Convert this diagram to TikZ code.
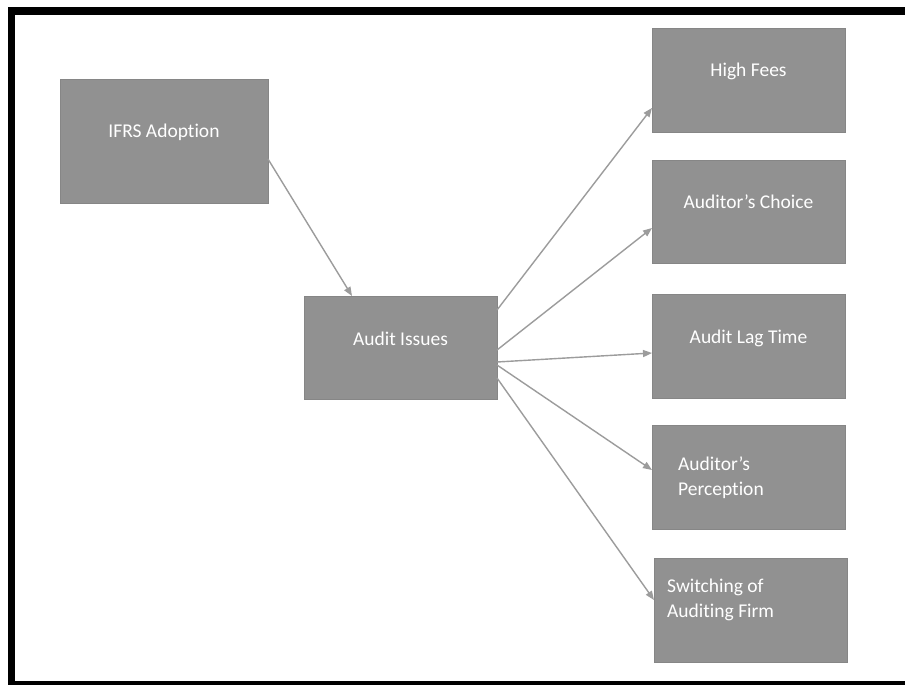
\documentclass[tikz,border=0pt]{standalone}
\usepackage{fontspec}
\setmainfont[Ligatures=NoCommon]{Carlito}
\usetikzlibrary{arrows.meta,positioning}
\definecolor{boxgray}{HTML}{919191}
\definecolor{boxedge}{HTML}{868686}
\definecolor{arrgray}{HTML}{9C9C9C}
\begin{document}
\begin{tikzpicture}[x=1pt,y=-1pt,
  box/.style={draw=boxedge,line width=0.8pt,fill=boxgray,minimum width=193pt,minimum height=104pt,inner sep=0pt,outer sep=0pt},
  boxtext/.style={text=white,font=\fontsize{19.5}{25}\selectfont,inner sep=0pt},
  conn/.style={draw=arrgray,line width=1.4pt,-{Triangle[length=9pt,width=7pt]}}]
\useasboundingbox (0,0) rectangle (905,685);
\fill[white] (0,0) rectangle (905,685);
% frame
\fill[black] (8,7) rectangle (905,15);
\fill[black] (8,7) rectangle (15,685);
\fill[black] (8,681) rectangle (905,685);
% boxes
\node[box,minimum width=208pt,minimum height=124pt] (ifrs) at (164,141) {};
\node[box,minimum height=103pt] (issues) at (400.5,347.5) {};
\node[box] (fees) at (748.5,80) {};
\node[box,minimum height=103pt] (choice) at (748.5,211.5) {};
\node[box] (lag) at (748.5,346) {};
\node[box] (perc) at (748.5,477) {};
\node[box] (switch) at (750.5,610) {};
% texts
\node[boxtext] (ifrsT) at ([yshift=9pt]ifrs.center) {IFRS Adoption};
\node[boxtext] (issuesT) at ([yshift=8.5pt]issues.center) {Audit Issues};
\node[boxtext] (feesT) at ([yshift=9pt]fees.center) {High Fees};
\node[boxtext] (choiceT) at ([yshift=9.5pt]choice.center) {Auditor’s Choice};
\node[boxtext] (lagT) at ([yshift=8pt]lag.center) {Audit Lag Time};
\node[boxtext,align=left,anchor=west] (percT) at ([xshift=26pt,yshift=-0.5pt]perc.west) {Auditor’s\\Perception};
\node[boxtext,align=left,anchor=west] (switchT) at ([xshift=13pt,yshift=10.5pt]switch.west) {Switching of\\Auditing Firm};
% connectors
\draw[conn] ([yshift=-18pt]ifrs.east) -- ([xshift=-48.5pt]issues.north);
\draw[conn] ([yshift=37.5pt]issues.east) -- ([yshift=-28pt]fees.west);
\draw[conn] ([yshift=-2.5pt]issues.east) -- ([yshift=-16.5pt]choice.west);
\draw[conn] ([yshift=-14.5pt]issues.east) -- ([yshift=-7pt]lag.west);
\draw[conn] ([yshift=-17.5pt]issues.east) -- ([yshift=7pt]perc.west);
\draw[conn] ([yshift=-30.5pt]issues.east) -- ([yshift=10pt]switch.west);
\end{tikzpicture}
\end{document}
